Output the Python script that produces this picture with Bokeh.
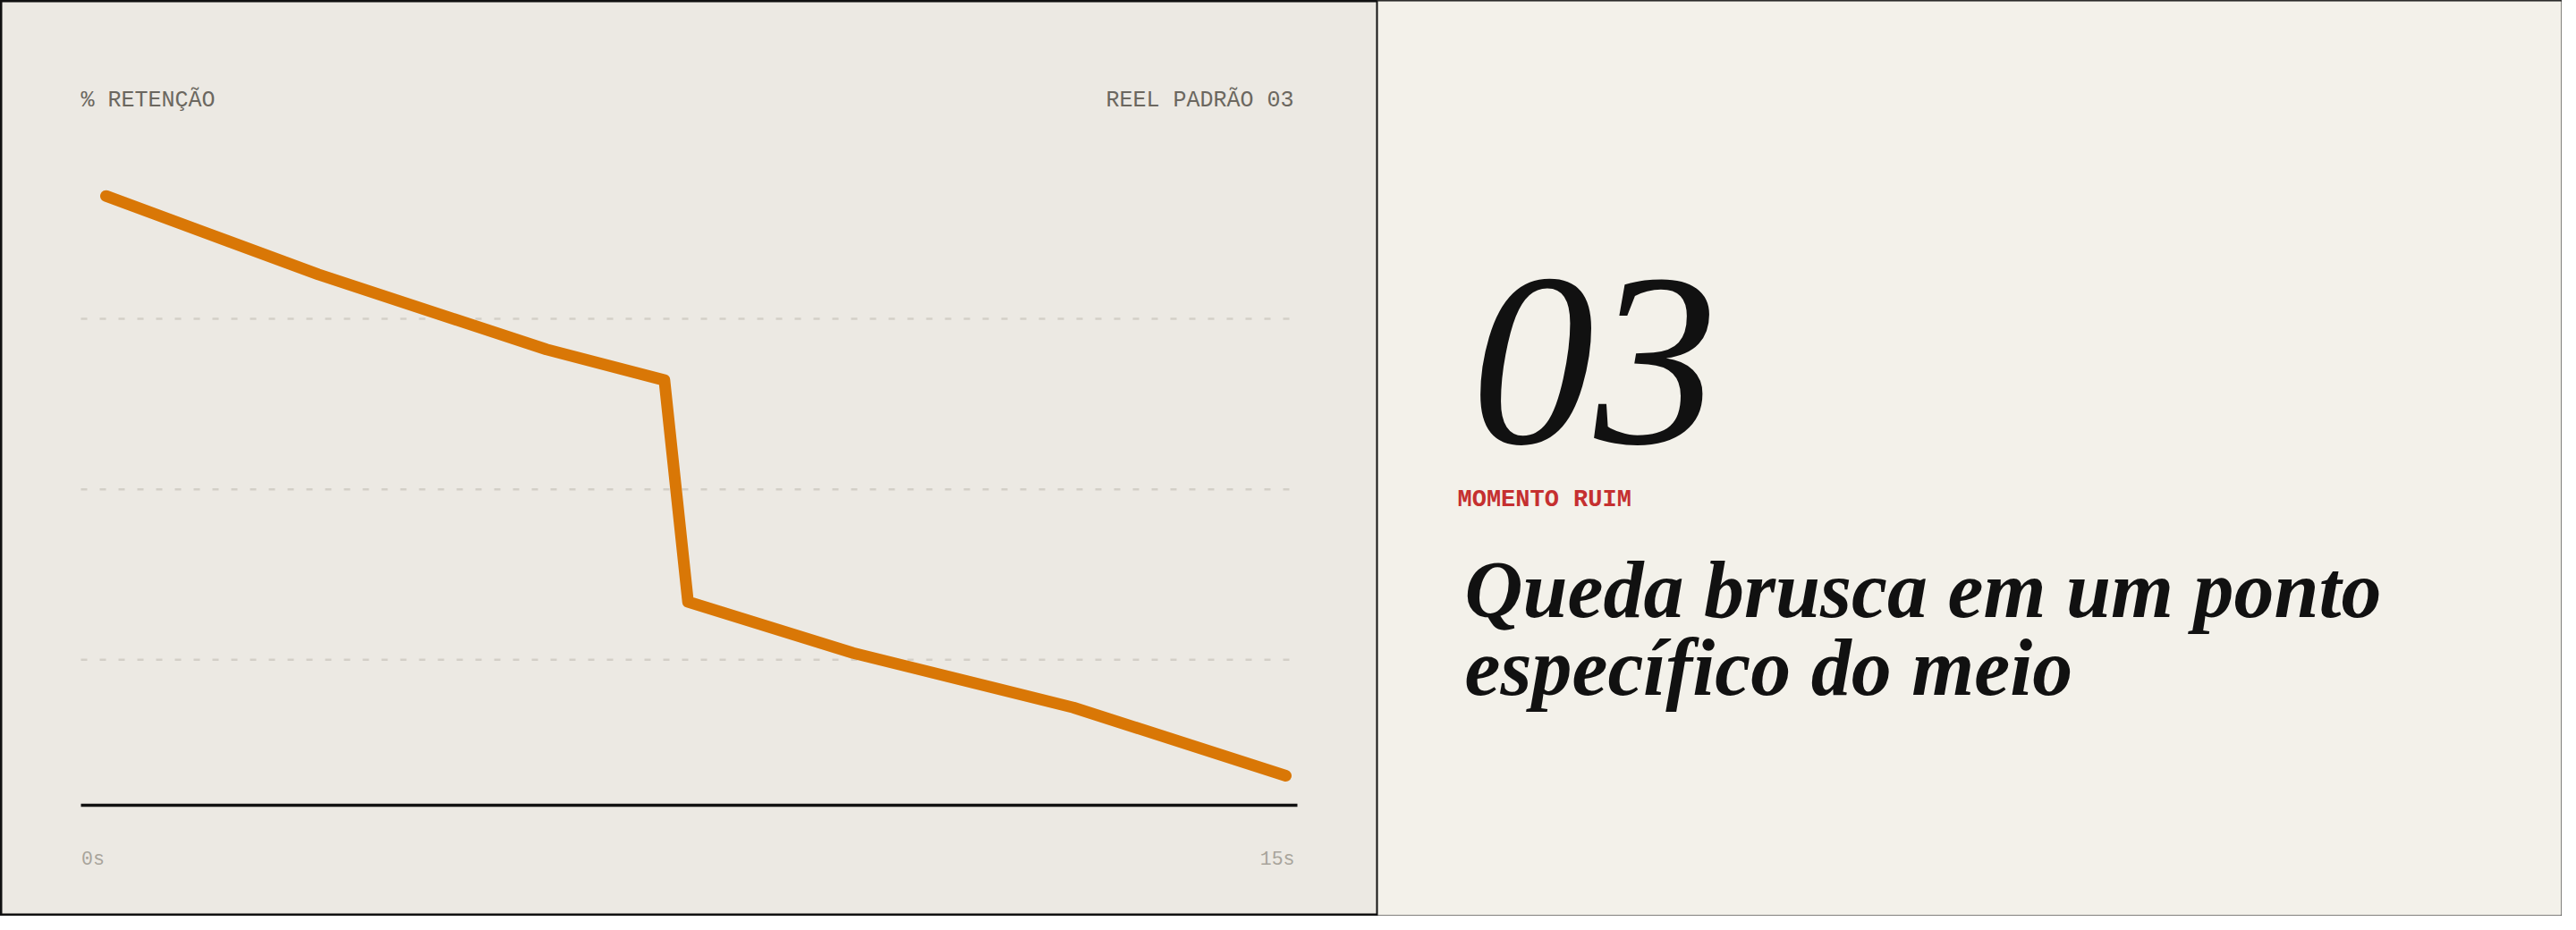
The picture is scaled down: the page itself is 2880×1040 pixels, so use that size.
from bokeh.plotting import figure
from bokeh.models import Range1d, Label, BoxAnnotation
from bokeh.embed import file_html
from bokeh.resources import INLINE

# ---------------- data ----------------
time_s = [0, 2.7, 5.6, 7.1, 7.4, 9.5, 12.3, 15]
retention = [93, 81.5, 70.5, 66, 33.5, 26, 18, 8]
grid_levels = [25, 50, 75]
x_tick_values = [0, 15]
x_tick_labels = ["0s", "15s"]
header_left = "% RETENÇÃO"
header_right = "REEL PADRÃO 03"
big_number = "03"
kicker = "MOMENTO RUIM"
title_lines = ["Queda brusca em um ponto", "específico do meio"]

# ---------------- layout (pixels from the top-left corner) ----------------
W, H = 2864, 1024

X0_PX, X15_PX = 118, 1437      # where 0s and 15s fall
V0_PX, PX_PER_V = 928, 7.627   # where 0% falls and px per percent
BASE_SHIFT = 0.34              # label baseline correction (fraction of font size)

def t_of(px):
    return (px - X0_PX) / (X15_PX - X0_PX) * 15.0

def v_of(py):
    return (V0_PX - py) / PX_PER_V

BG_LEFT = "#ECE9E3"
BG_RIGHT = "#F3F1EA"
INK = "#111111"

p = figure(width=W, height=H, output_backend="svg", toolbar_location=None,
           x_range=Range1d(t_of(0), t_of(W)),
           y_range=Range1d(v_of(H), v_of(0)),
           x_axis_location=None, y_axis_location=None,
           min_border=0, min_border_left=0, min_border_right=0,
           min_border_top=0, min_border_bottom=0)
p.grid.visible = False
p.background_fill_color = BG_LEFT
p.border_fill_color = BG_LEFT
p.outline_line_color = INK
p.outline_line_width = 4

# dashed guide lines
PLOT_L, PLOT_R = 90, 1450
p.segment(x0=[t_of(PLOT_L)] * len(grid_levels), x1=[t_of(PLOT_R)] * len(grid_levels),
          y0=grid_levels, y1=grid_levels,
          line_color="#D3CFC7", line_width=2.5, line_dash="7 14")

# baseline
p.segment(x0=[t_of(PLOT_L)], x1=[t_of(PLOT_R)], y0=[v_of(900)], y1=[v_of(900)],
          line_color=INK, line_width=3.5)

# retention line
p.line(time_s, retention, line_color="#D97706", line_width=13,
       line_cap="round", line_join="round")

MONO = "Liberation Mono"
SERIF = "Liberation Serif"

def lab(text, x, y, size, color, align="left", font=MONO, style="normal"):
    p.add_layout(Label(x=x, y=H - y + BASE_SHIFT * size, x_units="screen", y_units="screen",
                       text=text, text_font=font, text_font_size=f"{size:.1f}px",
                       text_color=color, text_align=align, text_baseline="alphabetic",
                       text_font_style=style))

# headers
lab(header_left, 90, 120.7, 25, "#6B675F")
lab(header_right, 1446, 120.7, 25, "#6B675F", align="right")

# x tick labels
lab(x_tick_labels[0], 90.5, 968.3, 21.5, "#A8A49B")
lab(x_tick_labels[1], 1447, 968.3, 21.5, "#A8A49B", align="right")

# right panel
p.add_layout(BoxAnnotation(left=1539, left_units="screen",
                           fill_color=BG_RIGHT, fill_alpha=1.0,
                           line_color=INK, line_width=2, line_alpha=1.0))

lab(big_number, 1644, 498, 276, INK, font=SERIF, style="italic")
lab(kicker, 1629, 567.3, 27, "#C53030", style="bold")
lab(title_lines[0], 1637, 690, 90, INK, font=SERIF, style="bold italic")
lab(title_lines[1], 1637, 776.7, 90, INK, font=SERIF, style="bold italic")

open("out.html", "w").write(file_html(p, INLINE))
